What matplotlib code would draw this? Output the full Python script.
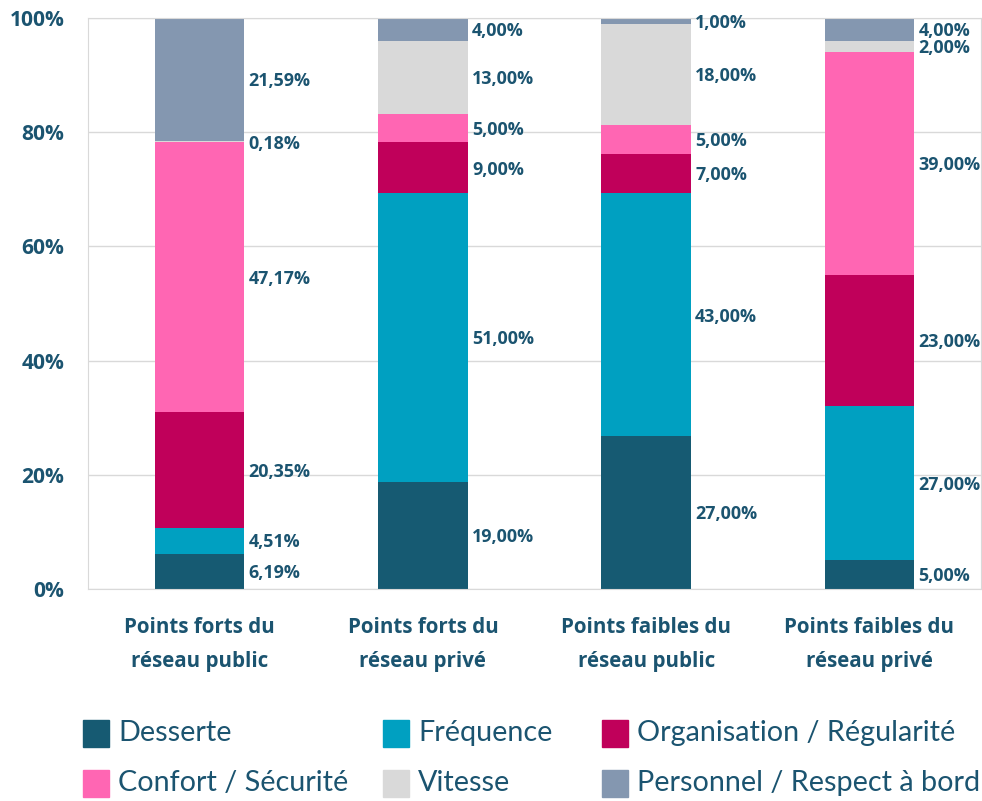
import numpy as np
import matplotlib
matplotlib.use("Agg")
import matplotlib.pyplot as plt
from matplotlib.patches import Rectangle

# data
categories = ["Points forts du\nréseau public", "Points forts du\nréseau privé",
              "Points faibles du\nréseau public", "Points faibles du\nréseau privé"]
series = ["Desserte", "Fréquence", "Organisation / Régularité",
          "Confort / Sécurité", "Vitesse", "Personnel / Respect à bord"]
desserte = [6.19, 19.00, 27.00, 5.00]
frequence = [4.51, 51.00, 43.00, 27.00]
organisation = [20.35, 9.00, 7.00, 23.00]
confort = [47.17, 5.00, 5.00, 39.00]
vitesse = [0.18, 13.00, 18.00, 2.00]
personnel = [21.59, 4.00, 1.00, 4.00]
colors = ["#165A72", "#00A0C1", "#C0005A", "#FF66B3", "#D9D9D9", "#8497B0"]

text_color = "#1B5470"
bold_font = ["Open Sans", "DejaVu Sans"]
plt.rcParams["font.family"] = ["Lato", "DejaVu Sans"]

values = np.array([desserte, frequence, organisation, confort, vitesse, personnel])
# 100% stacked: each column normalised to its total
shares = values / values.sum(axis=0) * 100

fig = plt.figure(figsize=(9.82, 8.01), dpi=100)
ax = fig.add_axes([88 / 982, 212 / 801, 893 / 982, 571 / 801])

x = np.arange(len(categories))
width = 0.4
bottom = np.zeros(len(categories))
for k in range(len(series)):
    ax.bar(x, shares[k], width, bottom=bottom, color=colors[k], label=series[k], zorder=2)
    for i in range(len(categories)):
        ax.text(x[i] + width / 2 + 0.02, bottom[i] + shares[k][i] / 2 - 0.3,
                f"{values[k][i]:.2f}%".replace(".", ","),
                ha="left", va="center", fontsize=12.9, fontweight="bold",
                color=text_color, family=bold_font)
    bottom += shares[k]

ax.set_xlim(-0.5, len(categories) - 0.5)
ax.set_ylim(0, 100)
ax.set_yticks(np.arange(0, 101, 20))
ax.set_yticklabels([f"{t}%" for t in range(0, 101, 20)])
ax.set_xticks(x)
ax.set_xticklabels(categories, linespacing=1.8)
ax.grid(axis="y", color="#D9D9D9", linewidth=1, zorder=0)
for s in ax.spines.values():
    s.set_color("#D9D9D9")
ax.tick_params(axis="both", length=0, colors=text_color)
ax.tick_params(axis="y", labelsize=15.1, pad=17)
ax.tick_params(axis="x", labelsize=14.8, pad=20)
for lab in ax.get_xticklabels() + ax.get_yticklabels():
    lab.set_fontweight("bold")
    lab.set_family(bold_font)

# legend, placed by hand in two rows of three
leg_x = [83, 383, 602]
leg_y = [733, 783]
for k, name in enumerate(series):
    col = k % 3
    row = k // 3
    px = leg_x[col] / 982
    py = 1 - leg_y[row] / 801
    fig.add_artist(Rectangle((px, py - 13.5 / 801), 26 / 982, 27 / 801,
                             transform=fig.transFigure, color=colors[k]))
    fig.text(px + 35 / 982, py, name, ha="left", va="center", fontsize=20.7,
             color=text_color)

plt.savefig("out.png", dpi=100)
plt.close()
